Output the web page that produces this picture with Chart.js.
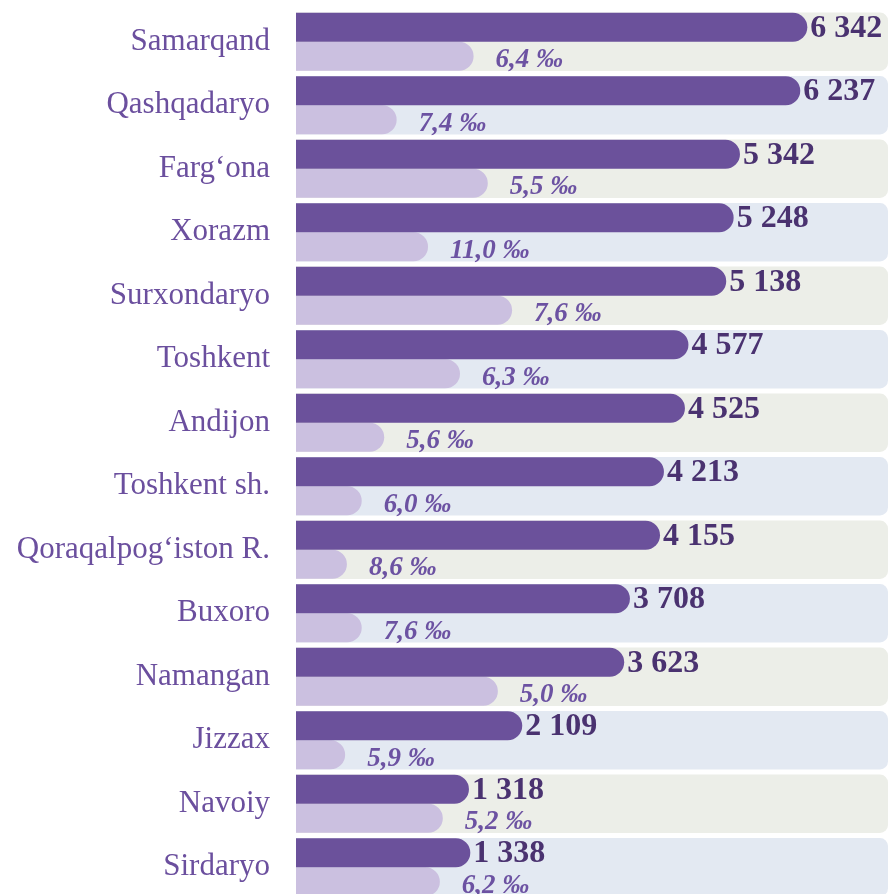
<!DOCTYPE html>
<html>
<head>
<meta charset="utf-8">
<script src="https://cdn.jsdelivr.net/npm/chart.js@4/dist/chart.umd.min.js"></script>
<style>
  html, body { margin: 0; padding: 0; overflow: hidden; background: #fff; }
</style>
</head>
<body>
<canvas id="chart" width="890" height="900"></canvas>
<script>
// regions, top to bottom
const regions = [
    "Samarqand", "Qashqadaryo", "Farg‘ona", "Xorazm", "Surxondaryo", "Toshkent", "Andijon",
    "Toshkent sh.", "Qoraqalpog‘iston R.", "Buxoro", "Namangan", "Jizzax", "Navoiy", "Sirdaryo"
];
// dark bars (absolute numbers)
const counts = [6342, 6237, 5342, 5248, 5138, 4577, 4525, 4213, 4155, 3708, 3623, 2109, 1318, 1338];
// rate labels, per mille
const rates = [6.4, 7.4, 5.5, 11.0, 7.6, 6.3, 5.6, 6.0, 8.6, 7.6, 5.0, 5.9, 5.2, 6.2];
// pale bars as drawn (share of the row width, %)
const rateBarLen = [30, 17, 32.4, 22.3, 36.5, 27.7, 14.9, 11.1, 8.6, 11.1, 34.1, 8.3, 24.8, 24.3];

// value axis does not start at zero in the picture
const X_MIN = -1250;
const X_MAX = 7540;

const bandColors = regions.map((r, i) => i % 2 === 0 ? "#eceee8" : "#e3e9f2");

function fmt(v) {
    return String(v).replace(/\B(?=(\d{3})+(?!\d))/g, " ");
}

/* ============ labels next to the bars ============ */
const barLabels = {
    id: "barLabels",
    afterDatasetsDraw(chart) {
        const ctx = chart.ctx;
        const dark = chart.getDatasetMeta(1).data;
        const light = chart.getDatasetMeta(2).data;
        ctx.save();
        ctx.textBaseline = "middle";
        ctx.textAlign = "left";
        ctx.font = 'bold 32px "Liberation Serif"';
        ctx.fillStyle = "#4a3270";
        dark.forEach((bar, i) => ctx.fillText(fmt(counts[i]), bar.x + 3, bar.y + 1));
        ctx.font = 'italic bold 27px "Liberation Serif"';
        ctx.fillStyle = "#6c52a2";
        light.forEach((bar, i) => {
            ctx.fillText(rates[i].toFixed(1).replace(".", ",") + " ‰", bar.x + 22, bar.y + 4);
        });
        ctx.restore();
    }
};

new Chart(document.getElementById("chart"), {
    type: "bar",
    data: {
        labels: regions,
        datasets: [
            {   // row background bands
                data: regions.map(() => X_MAX),
                base: X_MIN,
                xAxisID: "x",
                backgroundColor: bandColors,
                borderRadius: { topRight: 8, bottomRight: 8 },
                borderSkipped: false,
                grouped: false,
                categoryPercentage: 0.92,
                barPercentage: 1,
                order: 5
            },
            {
                data: counts,
                base: X_MIN,
                xAxisID: "x",
                stack: "a",
                backgroundColor: "#6b519b",
                borderRadius: { topRight: 15, bottomRight: 15 },
                borderSkipped: false,
                categoryPercentage: 0.914,
                barPercentage: 1,
                order: 1
            },
            {
                data: rateBarLen,
                xAxisID: "x2",
                stack: "b",
                backgroundColor: "#cbc0e0",
                borderRadius: { topRight: 15, bottomRight: 15 },
                borderSkipped: false,
                categoryPercentage: 0.914,
                barPercentage: 1,
                order: 1
            }
        ]
    },
    options: {
        indexAxis: "y",
        responsive: false,
        animation: false,
        layout: { padding: { top: 10, right: 2, bottom: 1, left: 0 } },
        plugins: { legend: { display: false }, tooltip: { enabled: false } },
        scales: {
            x: { display: false, min: X_MIN, max: X_MAX },
            x2: { display: false, min: 0, max: 100 },
            y: {
                grid: { display: false, drawTicks: true, tickLength: 26 },
                border: { display: false },
                ticks: {
                    color: "#6b4f9e",
                    padding: 0,
                    // tiny lineHeight so the labels do not add vertical padding
                    font: { family: "Liberation Serif", size: 31, lineHeight: 0.01 }
                },
                afterFit(scale) { scale.width = 296; }
            }
        }
    },
    plugins: [barLabels]
});
</script>
</body>
</html>
